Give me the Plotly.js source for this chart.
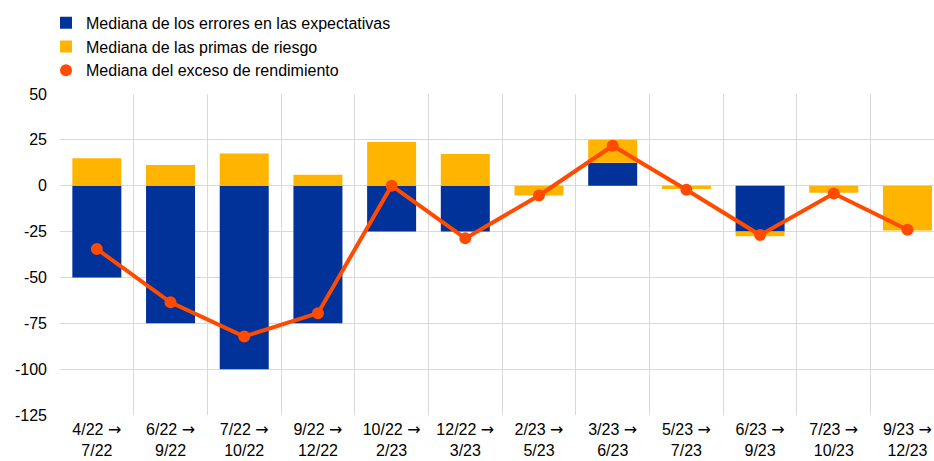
<!DOCTYPE html>
<html>
<head>
<meta charset="utf-8">
<script src="https://cdn.plot.ly/plotly-3.0.1.min.js"></script>
<style>html,body{margin:0;padding:0;background:#fff;overflow:hidden;}#chart{width:934px;height:461px;}</style>
</head>
<body>
<div id="chart"></div>
<script>
const categories = ["4/22 → 7/22","6/22 → 9/22","7/22 → 10/22","9/22 → 12/22","10/22 → 2/23","12/22 → 3/23","2/23 → 5/23","3/23 → 6/23","5/23 → 7/23","6/23 → 9/23","7/23 → 10/23","9/23 → 12/23"];
const expectationErrors = [-50, -75, -100, -75, -25, -25, 0, 12.5, 0, -25, 0, 0];
const riskPremia = [15, 11.3, 17.6, 6, 23.8, 17.3, -5.3, 12.5, -1.8, -2.6, -3.8, -24.4];
const excessReturn = [-34.5, -63.6, -82.2, -69.5, 0, -28.7, -5.3, 21.8, -2.2, -26.9, -4.2, -24];
const yTicks = [50, 25, 0, -25, -50, -75, -100, -125];

const tickLabels = categories.map(c => c.replace(" → ", ' <span style="font-family:DejaVu Sans">→</span><br>'));

const blue = "#003299", yellow = "#FFB400", orange = "#FF4B00";
const font = {family: "Liberation Sans, Arial, sans-serif", size: 16, color: "#000"};

const traces = [
  {type: "bar", x: categories, y: expectationErrors, name: "Mediana de los errores en las expectativas", marker: {color: blue}},
  {type: "bar", x: categories, y: riskPremia, name: "Mediana de las primas de riesgo", marker: {color: yellow}},
  {type: "scatter", mode: "lines", x: categories, y: excessReturn, showlegend: false, line: {color: orange, width: 4}},
  {type: "scatter", mode: "markers", x: categories, y: excessReturn, name: "Mediana del exceso de rendimiento", marker: {color: orange, size: 12}}
];

const layout = {
  width: 934, height: 461,
  margin: {l: 60, r: 0, t: 94, b: 46},
  paper_bgcolor: "#fff", plot_bgcolor: "#fff",
  font: font,
  barmode: "relative",
  bargap: 0.335,
  showlegend: true,
  legend: {x: -0.016, xanchor: "left", y: 1.275, yanchor: "top", orientation: "v", font: font, tracegroupgap: 0, bgcolor: "rgba(0,0,0,0)"},
  xaxis: {type: "category", range: [-0.5, 11.36], tickson: "boundaries", tickmode: "array", tickvals: categories, ticktext: tickLabels, ticklabelstandoff: 3, showgrid: true, gridcolor: "#d9d9d9", gridwidth: 1, ticks: "", showline: false, zeroline: false, tickfont: font, fixedrange: true},
  yaxis: {range: [-125, 50], tickvals: yTicks, ticktext: yTicks.map(String), showgrid: true, gridcolor: "#d9d9d9", gridwidth: 1, zeroline: false, showline: false, ticks: "", ticklabelstandoff: 12, tickfont: font, fixedrange: true}
};

Plotly.newPlot("chart", traces, layout, {displayModeBar: false, staticPlot: true});
</script>
</body>
</html>
